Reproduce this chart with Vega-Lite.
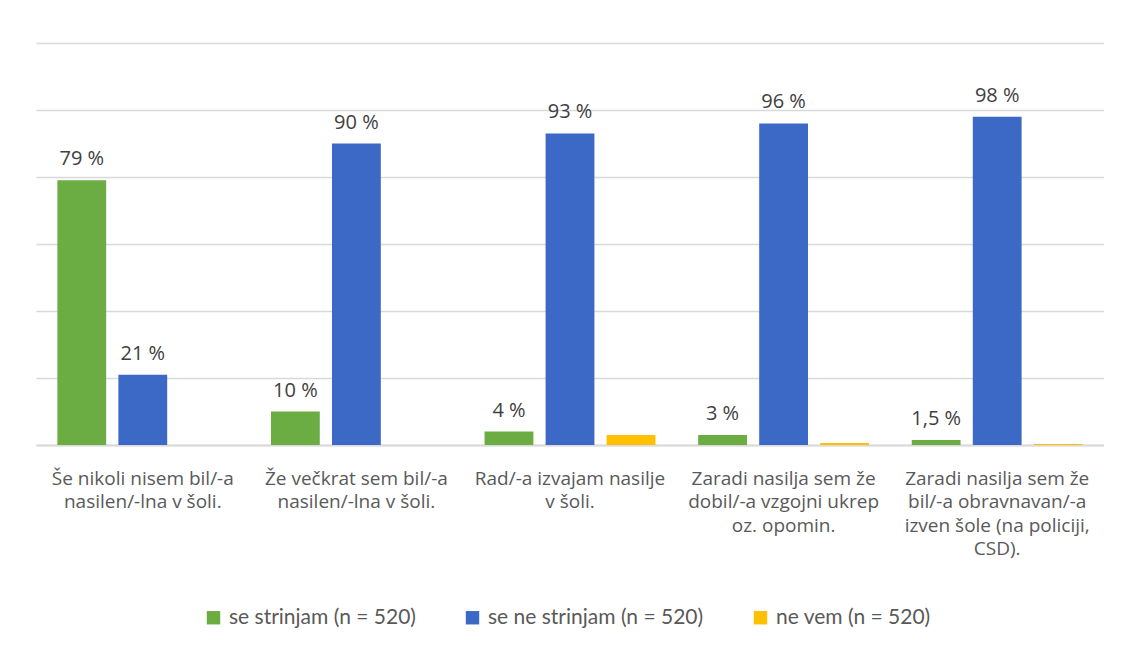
{
  "$schema": "https://vega.github.io/schema/vega-lite/v6.json",
  "width": 1068,
  "height": 402,
  "padding": {"left": 36, "top": 43, "right": 0, "bottom": 0},
  "autosize": {"type": "pad"},
  "background": "white",
  "config": {"view": {"stroke": null}, "font": "Open Sans"},
  "data": {
    "values": [
      {"trditev": "Še nikoli nisem bil/-a\nnasilen/-lna v šoli.", "odgovor": "se strinjam (n = 520)", "delez": 79},
      {"trditev": "Še nikoli nisem bil/-a\nnasilen/-lna v šoli.", "odgovor": "se ne strinjam (n = 520)", "delez": 21},
      {"trditev": "Še nikoli nisem bil/-a\nnasilen/-lna v šoli.", "odgovor": "ne vem (n = 520)", "delez": 0},
      {"trditev": "Že večkrat sem bil/-a\nnasilen/-lna v šoli.", "odgovor": "se strinjam (n = 520)", "delez": 10},
      {"trditev": "Že večkrat sem bil/-a\nnasilen/-lna v šoli.", "odgovor": "se ne strinjam (n = 520)", "delez": 90},
      {"trditev": "Že večkrat sem bil/-a\nnasilen/-lna v šoli.", "odgovor": "ne vem (n = 520)", "delez": 0},
      {"trditev": "Rad/-a izvajam nasilje\nv šoli.", "odgovor": "se strinjam (n = 520)", "delez": 4},
      {"trditev": "Rad/-a izvajam nasilje\nv šoli.", "odgovor": "se ne strinjam (n = 520)", "delez": 93},
      {"trditev": "Rad/-a izvajam nasilje\nv šoli.", "odgovor": "ne vem (n = 520)", "delez": 3},
      {"trditev": "Zaradi nasilja sem že\ndobil/-a vzgojni ukrep\noz. opomin.", "odgovor": "se strinjam (n = 520)", "delez": 3},
      {"trditev": "Zaradi nasilja sem že\ndobil/-a vzgojni ukrep\noz. opomin.", "odgovor": "se ne strinjam (n = 520)", "delez": 96},
      {"trditev": "Zaradi nasilja sem že\ndobil/-a vzgojni ukrep\noz. opomin.", "odgovor": "ne vem (n = 520)", "delez": 0.6},
      {"trditev": "Zaradi nasilja sem že\nbil/-a obravnavan/-a\nizven šole (na policiji,\nCSD).", "odgovor": "se strinjam (n = 520)", "delez": 1.5},
      {"trditev": "Zaradi nasilja sem že\nbil/-a obravnavan/-a\nizven šole (na policiji,\nCSD).", "odgovor": "se ne strinjam (n = 520)", "delez": 98},
      {"trditev": "Zaradi nasilja sem že\nbil/-a obravnavan/-a\nizven šole (na policiji,\nCSD).", "odgovor": "ne vem (n = 520)", "delez": 0.3}
    ]
  },
  "encoding": {
    "x": {
      "field": "trditev",
      "type": "nominal",
      "sort": null,
      "scale": {"paddingInner": 0.2, "paddingOuter": 0.1},
      "axis": {
        "title": null,
        "labelAngle": 0,
        "labelExpr": "split(datum.label, '\\n')",
        "labelFontSize": 19,
        "labelLineHeight": 23.5,
        "labelColor": "#595959",
        "labelBaseline": "top",
        "labelPadding": 24,
        "labelLimit": 400,
        "ticks": false,
        "domainColor": "#D9D9D9",
        "domainWidth": 2
      }
    },
    "xOffset": {
      "field": "odgovor",
      "type": "nominal",
      "sort": ["se strinjam (n = 520)", "se ne strinjam (n = 520)", "ne vem (n = 520)"],
      "scale": {"domain": ["se strinjam (n = 520)", "se ne strinjam (n = 520)", "ne vem (n = 520)"], "paddingInner": 0.2, "paddingOuter": 0}
    },
    "y": {
      "field": "delez",
      "type": "quantitative",
      "scale": {"domain": [0, 120], "nice": false},
      "axis": {
        "title": null,
        "labels": false,
        "ticks": false,
        "domain": false,
        "values": [0, 20, 40, 60, 80, 100, 120],
        "gridColor": "#D9D9D9",
        "gridWidth": 1.5
      }
    }
  },
  "layer": [
    {
      "mark": {"type": "bar"},
      "encoding": {
        "color": {
          "field": "odgovor",
          "type": "nominal",
          "sort": ["se strinjam (n = 520)", "se ne strinjam (n = 520)", "ne vem (n = 520)"],
          "scale": {
            "domain": ["se strinjam (n = 520)", "se ne strinjam (n = 520)", "ne vem (n = 520)"],
            "range": ["#6BAD43", "#3D69C6", "#FFC000"]
          },
          "legend": {
            "title": null,
            "orient": "none",
            "legendX": 167,
            "legendY": 564,
            "direction": "horizontal",
            "symbolType": "square",
            "symbolSize": 180,
            "symbolStrokeWidth": 0,
            "symbolOffset": 0,
            "labelOffset": 5,
            "labelFont": "Lato",
            "labelFontSize": 21,
            "labelColor": "#595959",
            "columnPadding": 46,
            "labelLimit": 0
          }
        }
      }
    },
    {
      "transform": [
        {"filter": "datum.odgovor != 'ne vem (n = 520)'"},
        {"calculate": "replace(format(datum.delez, '.1~f'), '.', ',') + ' %'", "as": "oznaka"}
      ],
      "mark": {"type": "text", "baseline": "bottom", "dy": -11, "fontSize": 20, "color": "#404040"},
      "encoding": {"text": {"field": "oznaka"}}
    }
  ]
}
